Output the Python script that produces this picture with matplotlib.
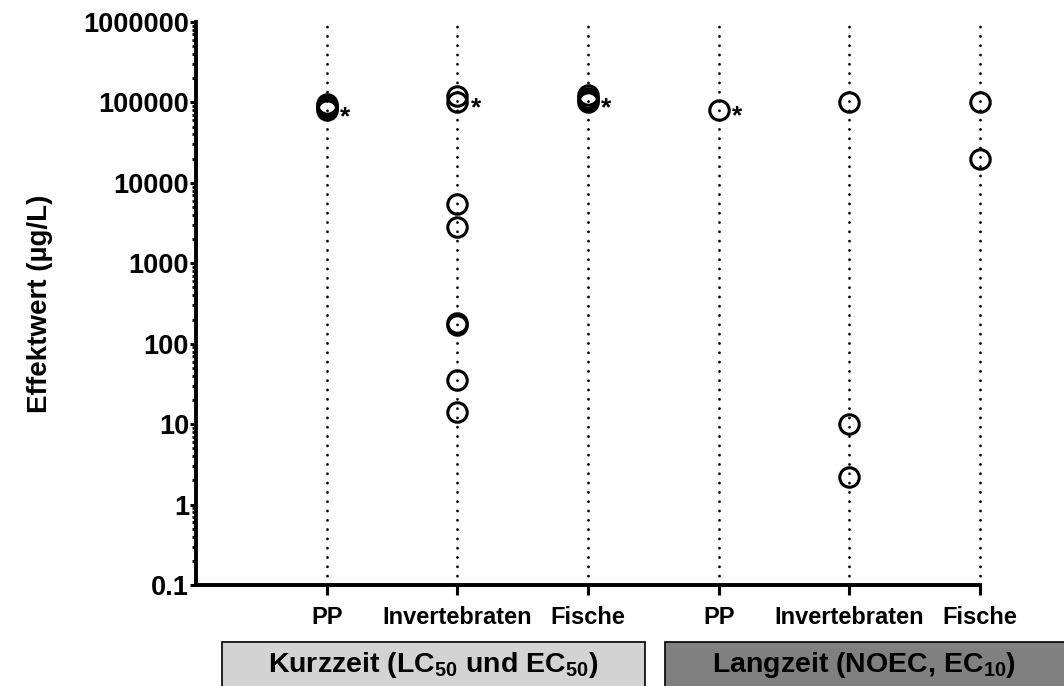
import matplotlib
matplotlib.use("Agg")
import matplotlib.pyplot as plt
from matplotlib.patches import Rectangle
from matplotlib.ticker import LogLocator, FuncFormatter, NullFormatter

plt.rcParams['font.family'] = ['Liberation Sans', 'DejaVu Sans']
plt.rcParams['font.weight'] = 'bold'
plt.rcParams['mathtext.fontset'] = 'custom'
plt.rcParams['mathtext.rm'] = 'Liberation Sans:bold'
plt.rcParams['mathtext.bf'] = 'Liberation Sans:bold'
plt.rcParams['mathtext.default'] = 'bf'

# categories along x
categories = ['PP', 'Invertebraten', 'Fische', 'PP', 'Invertebraten', 'Fische']

# effect values (µg/L) per category
pp_short = [80000, 85000, 90000, 95000]
inv_short = [120000, 100000, 5400, 2800, 180, 172, 35, 14]
fish_short = [100000, 107000, 114000, 122000]
pp_long = [80000]
inv_long = [100000, 10, 2.2]
fish_long = [100000, 20000]
all_values = [pp_short, inv_short, fish_short, pp_long, inv_long, fish_long]

# value next to which an asterisk is drawn (None = no asterisk)
star_at = [78000, 100000, 100000, 80000, None, None]

group_labels = [r'Kurzzeit (LC$_{50}$ und EC$_{50}$)', r'Langzeit (NOEC, EC$_{10}$)']

fig = plt.figure(figsize=(10.64, 6.86), dpi=100)
ax = fig.add_axes([196/1064, 1 - 585/686, (980 - 196)/1064, (585 - 22)/686])

positions = list(range(1, len(categories) + 1))

# dotted guide lines
guides = ax.vlines(positions, 0.1, 1e6, colors='black', linewidth=2.0,
                   linestyles=(0, (0.05, 3.3)), zorder=1, clip_on=False)
guides.set_capstyle('round')

for pos, vals, star in zip(positions, all_values, star_at):
    ax.plot([pos] * len(vals), vals, linestyle='none', marker='o', markersize=14,
            markerfacecolor='none', markeredgecolor='black', markeredgewidth=2.2,
            clip_on=False, zorder=3)
    if star is not None:
        ax.annotate('*', xy=(pos, star), xytext=(9.5, -4.5), textcoords='offset points',
                    ha='left', va='center', fontsize=19, fontweight='bold')

ax.set_yscale('log')
ax.set_ylim(0.1, 1e6)
ax.set_xlim(0, 6)
ax.yaxis.set_major_locator(LogLocator(base=10, numticks=20))
ax.yaxis.set_minor_locator(LogLocator(base=10, subs=range(2, 10), numticks=20))
ax.yaxis.set_minor_formatter(NullFormatter())
ax.yaxis.set_major_formatter(FuncFormatter(lambda v, p: ('%g' % v) if v < 1 else '%d' % round(v)))

ax.set_xticks(positions)
ax.set_xticklabels(categories)

for side in ['top', 'right']:
    ax.spines[side].set_visible(False)
for side in ['left', 'bottom']:
    ax.spines[side].set_linewidth(2.8)

ax.tick_params(axis='y', which='major', direction='out', length=4, width=2.2, labelsize=19.5, pad=1)
ax.tick_params(axis='y', which='minor', direction='out', length=3, width=2)
ax.tick_params(axis='x', which='major', direction='out', length=7, width=2.2, labelsize=17, pad=8)
for lbl in ax.get_xticklabels() + ax.get_yticklabels():
    lbl.set_fontweight('bold')

ax.set_ylabel('Effektwert (µg/L)', fontsize=20, fontweight='bold', labelpad=22)

# group boxes below the axis
box_specs = [((222, 642, 645, 700), '#d3d3d3'), ((665, 642, 1070, 700), '#808080')]
for ((x0, y0, x1, y1), color), label in zip(box_specs, group_labels):
    rect = Rectangle((x0/1064, 1 - y1/686), (x1 - x0)/1064, (y1 - y0)/686,
                     transform=fig.transFigure, facecolor=color, edgecolor='black',
                     linewidth=1.2, clip_on=False)
    fig.add_artist(rect)
    fig.text((x0 + min(x1, 1064)) / 2 / 1064, 1 - 665/686, label,
             ha='center', va='center', fontsize=20.5, fontweight='bold')

fig.savefig('out.png', dpi=100)
